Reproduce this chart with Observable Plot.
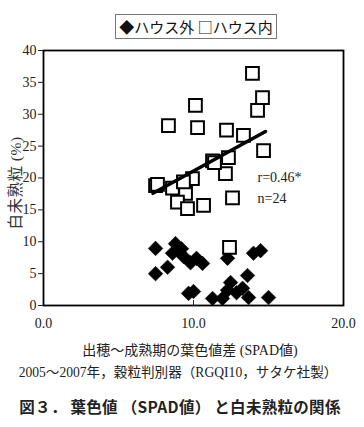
<!DOCTYPE html>
<html><head><meta charset="utf-8">
<script src="https://cdn.jsdelivr.net/npm/d3@7"></script>
<script src="https://cdn.jsdelivr.net/npm/@observablehq/plot@0.6"></script>
<style>
body{margin:0;background:#fff;}
#wrap{position:relative;width:364px;height:427px;overflow:hidden;font-family:"Liberation Serif","Noto Sans CJK JP",serif;color:#222;}
#legend{position:absolute;left:115px;top:14px;width:162px;height:25px;border:1px solid #777;box-sizing:border-box;font-size:15px;line-height:23px;text-align:center;font-family:"Noto Sans CJK JP",sans-serif;color:#111;white-space:nowrap;}
#chart{position:absolute;left:0;top:0;}
.cap{position:absolute;left:0;width:364px;text-align:center;white-space:nowrap;}
#xl{top:339px;font-size:14px;left:8px;}
#c1{top:361px;font-size:13.6px;left:-4px;}
#c2{top:395px;font-size:15.5px;font-weight:bold;font-family:"Noto Sans CJK JP",sans-serif;letter-spacing:0.3px;left:-2px;}
#yl{position:absolute;left:14px;top:183px;width:0;height:0;}
#yl span{position:absolute;left:0;top:0;transform:translate(-50%,-50%) rotate(-90deg);white-space:nowrap;font-size:15.5px;color:#333;letter-spacing:0.5px;}
</style></head>
<body><div id="wrap">
<div id="chart"></div>
<div id="legend"></div>
<div id="yl"><span></span></div>
<div class="cap" id="xl"></div>
<div class="cap" id="c1"></div>
<div class="cap" id="c2"></div>
</div>
<script>
const seriesNames = ["ハウス外", "ハウス内"];
const outsideX = [7.47, 8.8, 9.2, 8.6, 9.33, 9.8, 10.6, 7.47, 8.27, 9.67, 10.0, 11.27, 12.27, 14.0, 14.47, 13.6, 12.47, 12.27, 13.27, 13.67, 15.0, 11.93, 12.87, 10.2];
const outsideY = [8.95, 9.7, 8.9, 8.2, 7.7, 6.7, 6.6, 5.0, 6.0, 1.9, 2.2, 1.1, 7.4, 8.2, 8.6, 4.7, 3.6, 2.4, 2.7, 1.25, 1.25, 1.1, 2.0, 7.4];
const insideX = [13.93, 14.6, 14.27, 10.13, 10.27, 8.33, 12.2, 13.33, 14.67, 12.33, 11.27, 12.13, 9.93, 7.47, 7.6, 8.6, 9.47, 8.93, 9.6, 10.67, 12.6, 12.4, 9.33, 11.4];
const insideY = [36.4, 32.6, 30.6, 31.4, 27.9, 28.2, 27.5, 26.7, 24.3, 23.2, 22.7, 20.7, 19.9, 18.8, 19.0, 18.4, 17.6, 16.2, 15.2, 15.7, 16.9, 9.1, 19.4, 22.4];
const fitX = [7.3, 14.8];
const fitY = [17.6, 27.3];
const statLabels = ["r=0.46*", "n=24"];
const statX = [14.27, 14.27];
const statY = [20.1, 16.8];
const xTicks = [0, 10, 20];
const yTicks = [0, 5, 10, 15, 20, 25, 30, 35, 40];
const xLabel = "出穂～成熟期の葉色値差 (SPAD値)";
const yLabel = "白未熟粒 (%)";
const caption1 = "2005～2007年，穀粒判別器（RGQI10，サタケ社製）";
const caption2 = "図３． 葉色値 （SPAD値） と白未熟粒の関係";

const outside = outsideX.map((x, i) => ({x, y: outsideY[i]}));
const inside = insideX.map((x, i) => ({x, y: insideY[i]}));
const fit = fitX.map((x, i) => ({x, y: fitY[i]}));
const stats = statLabels.map((t, i) => ({t, x: statX[i], y: statY[i]}));
const serif = "Liberation Serif, Noto Sans CJK JP, serif";

const plot = Plot.plot({
  width: 364, height: 340,
  marginTop: 50, marginBottom: 35, marginLeft: 43, marginRight: 21,
  style: {fontFamily: serif, fontSize: "14px", color: "#222", background: "transparent"},
  x: {domain: [0, 20]},
  y: {domain: [0, 40]},
  marks: [
    Plot.axisY({ticks: yTicks, tickSize: 5, tickPadding: 2, label: null, fontSize: 14, fontFamily: serif, fill: "#222"}),
    Plot.axisX({ticks: xTicks, tickSize: -5, tickPadding: 18, tickFormat: d => d.toFixed(1), label: null, fontSize: 14, fontFamily: serif, fill: "#222"}),
    Plot.dot(outside, {x: "x", y: "y", symbol: "diamond2", r: 6.6, fill: "#000", stroke: "#000", strokeWidth: 0.5}),
    Plot.dot(inside, {x: "x", y: "y", symbol: "square", r: 7.2, fill: "#fff", stroke: "#000", strokeWidth: 2}),
    Plot.line(fit, {x: "x", y: "y", stroke: "#000", strokeWidth: 3.5}),
    Plot.text(stats, {x: "x", y: "y", text: "t", textAnchor: "start", fontSize: 14, fontFamily: serif, fill: "#222"}),
    Plot.frame({stroke: "#000", strokeWidth: 1.8})
  ]
});
document.getElementById("chart").appendChild(plot);
document.getElementById("legend").textContent = "◆" + seriesNames[0] + " □" + seriesNames[1];
document.querySelector("#yl span").textContent = yLabel;
document.getElementById("xl").textContent = xLabel;
document.getElementById("c1").textContent = caption1;
document.getElementById("c2").textContent = caption2;
</script>
</body></html>
